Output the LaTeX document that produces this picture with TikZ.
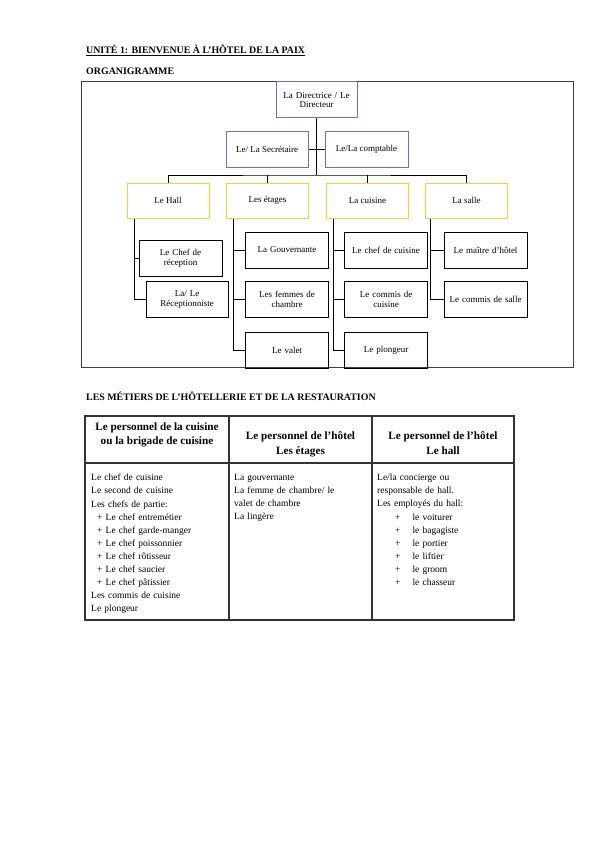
\documentclass[tikz,border=0pt]{standalone}
\usepackage{fontspec}
\setmainfont{Liberation Serif}
\usepackage{xcolor}
\usepackage{tikz}
\usetikzlibrary{positioning}

\definecolor{bosspurple}{HTML}{8C62BC}
\definecolor{deptyellow}{HTML}{FFCC3A}

\begin{document}
\begin{tikzpicture}[
    x=1pt, y=-1pt,
    heading/.style={anchor=west, inner sep=0pt, font=\bfseries\fontsize{9.9}{11}\selectfont},
    boss/.style={rectangle, draw=bosspurple, line width=1pt, align=center, font=\fontsize{9}{9}\selectfont, inner sep=1pt},
    dept/.style={rectangle, draw=deptyellow, line width=1pt, minimum width=82pt, minimum height=35pt, align=center, font=\fontsize{9}{10}\selectfont},
    job/.style={rectangle, draw, line width=0.7pt, minimum width=83pt, minimum height=36pt, text width=80pt, align=center, font=\fontsize{9}{10}\selectfont, inner sep=1pt},
    link/.style={draw, line width=0.7pt},
    cell/.style={anchor=north west, inner sep=0pt, text width=138pt, align=left, font=\fontsize{9.5}{13.1}\selectfont},
    headcell/.style={anchor=north, align=center, inner sep=0pt, font=\bfseries\fontsize{11.2}{14.5}\selectfont}
]
\useasboundingbox (0,0) rectangle (600,848);

% titles
\node[heading] (title) at (86,50) {\underline{UNITÉ 1: BIENVENUE À L’HÔTEL DE LA PAIX}};
\node[heading] (orga) at (86,71) {ORGANIGRAMME};

% organigramme
\draw[line width=0.9pt, black!75] (81,81) rectangle (573,367);

\node[boss, minimum width=81pt, minimum height=36pt, text width=79pt] (dir) at (316.5,100) {La Directrice / Le\\Directeur};
\node[boss, minimum width=82pt, minimum height=35pt] (sec) at (267,149.5) {Le/ La Secrétaire};
\node[boss, minimum width=83pt, minimum height=35pt] (comp) at (366.5,149.5) {Le/La comptable};

\node[dept] (hall) at (168,200.5) {Le Hall};
\node[dept] (etages) at (267.5,200.5) {Les étages};
\node[dept] (cuisine) at (367.5,200.5) {La cuisine};
\node[dept] (salle) at (466.5,200.5) {La salle};

\node[job] (chefrec) at (180.5,258) {Le Chef de\\réception};
\node[job, minimum width=80pt] (recep) at (187,299.5) {La/ Le\\Réceptionniste};

\node[job] (gouv) at (287,250) {La Gouvernante};
\node[job] (femmes) at (287,299.5) {Les femmes de\\chambre};
\node[job] (valet) at (287,350) {Le valet};

\node[job] (chefcui) at (386,250) {Le chef de cuisine};
\node[job] (commis) at (386,299.5) {Le commis de\\cuisine};
\node[job] (plong) at (386,350) {Le plongeur};

\node[job] (maitre) at (485.5,250) {Le maître d’hôtel};
\node[job] (commsalle) at (485.5,299.5) {Le commis de salle};

\coordinate (bus) at (316.5,175);
\draw[link, line width=0.9pt] (dir) -- (bus);
\draw[link] (sec.east) -- (comp.west);
\draw[link] (hall.north) |- (bus) -| (salle.north);
\draw[link] (etages.north) -- (etages.north |- bus);
\draw[link] (cuisine.north) -- (cuisine.north |- bus);

\draw[link] ([xshift=8pt]hall.south west) |- (chefrec.west);
\draw[link] ([xshift=8pt]hall.south west) |- (recep.west);
\foreach \d/\a/\b/\c in {etages/gouv/femmes/valet, cuisine/chefcui/commis/plong} {
    \draw[link] ([xshift=7pt]\d.south west) |- (\a.west);
    \draw[link] ([xshift=7pt]\d.south west) |- (\b.west);
    \draw[link] ([xshift=7pt]\d.south west) |- (\c.west);
}
\draw[link] ([xshift=5pt]salle.south west) |- (maitre.west);
\draw[link] ([xshift=5pt]salle.south west) |- (commsalle.west);

% metiers
\node[heading] (metiers) at (86,396) {LES MÉTIERS DE L’HÔTELLERIE ET DE LA RESTAURATION};

\draw[line width=1.1pt, black!80] (85,416) rectangle (514,620);
\draw[line width=1.1pt, black!80] (85,463) -- (514,463);
\draw[line width=1.1pt, black!80] (229,416) -- (229,620);
\draw[line width=1.1pt, black!80] (372,416) -- (372,620);

\node[headcell] (hcuisine) at (157,422.5) {Le personnel de la cuisine\\ou la brigade de cuisine};
\node[headcell] (hetages) at (300.5,431.5) {Le personnel de l’hôtel\\Les étages};
\node[headcell] (hhall) at (443,431.5) {Le personnel de l’hôtel\\Le hall};

\node[cell] (bcuisine) at (91,474) {Le chef de cuisine\\Le second de cuisine\\Les chefs de partie:\\
    \hspace*{6pt}+ Le chef entremétier\\\hspace*{6pt}+ Le chef garde-manger\\\hspace*{6pt}+ Le chef poissonnier\\
    \hspace*{6pt}+ Le chef rôtisseur\\\hspace*{6pt}+ Le chef saucier\\\hspace*{6pt}+ Le chef pâtissier\\
    Les commis de cuisine\\Le plongeur};
\node[cell] (betages) at (234,474) {La gouvernante\\La femme de chambre/ le\\valet de chambre\\La lingère};
\node[cell] (bhall) at (377,474) {Le/la concierge ou\\responsable de hall.\\Les employés du hall:\\
    \hspace*{18pt}+\hspace{12pt}le voiturer\\\hspace*{18pt}+\hspace{12pt}le bagagiste\\\hspace*{18pt}+\hspace{12pt}le portier\\
    \hspace*{18pt}+\hspace{12pt}le liftier\\\hspace*{18pt}+\hspace{12pt}le groom\\\hspace*{18pt}+\hspace{12pt}le chasseur};

\end{tikzpicture}
\end{document}
